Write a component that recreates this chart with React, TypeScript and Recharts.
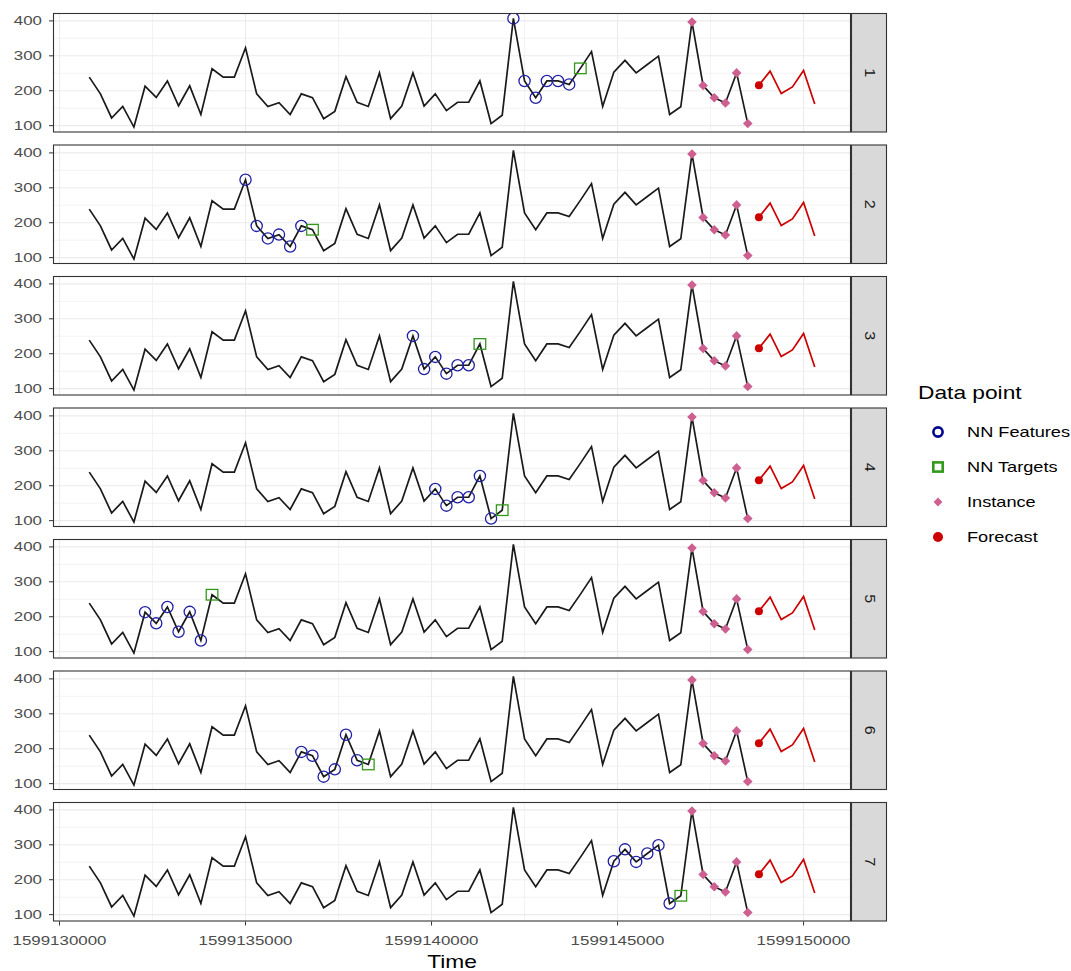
import { ComposedChart, Line, XAxis, YAxis, CartesianGrid } from "recharts";

// observed series (5 min steps)
const seriesTime = [
  1599130800, 1599131100, 1599131400, 1599131700, 1599132000, 1599132300, 1599132600, 1599132900, 1599133200, 1599133500,
  1599133800, 1599134100, 1599134400, 1599134700, 1599135000, 1599135300, 1599135600, 1599135900, 1599136200, 1599136500,
  1599136800, 1599137100, 1599137400, 1599137700, 1599138000, 1599138300, 1599138600, 1599138900, 1599139200, 1599139500,
  1599139800, 1599140100, 1599140400, 1599140700, 1599141000, 1599141300, 1599141600, 1599141900, 1599142200, 1599142500,
  1599142800, 1599143100, 1599143400, 1599143700, 1599144000, 1599144300, 1599144600, 1599144900, 1599145200, 1599145500,
  1599145800, 1599146100, 1599146400, 1599146700, 1599147000, 1599147300, 1599147600, 1599147900, 1599148200, 1599148500,
];
const seriesValue = [
  239, 191, 122, 155, 96, 213, 181, 228, 157, 214,
  132, 263, 239, 239, 323, 191, 155, 166, 132, 191,
  180, 120, 141, 240, 167, 155, 251, 120, 156, 251,
  156, 191, 143, 167, 167, 228, 106, 130, 407, 228,
  180, 228, 228, 218, 264, 312, 155, 253, 287, 251,
  275, 299, 132, 154, 397, 215, 180, 165, 251, 106,
];
const forecastTime = [1599148800, 1599149100, 1599149400, 1599149700, 1599150000, 1599150300];
const forecastValue = [216, 256, 192, 211, 258, 162];

// first neighbour-feature index for each facet, 6 features then 1 target
const neighbourStart = [38, 14, 29, 31, 5, 19, 47];
const panelLabels = ["1", "2", "3", "4", "5", "6", "7"];
const instanceCount = 6;
const featureCount = 6;

const xTicks = [1599130000, 1599135000, 1599140000, 1599145000, 1599150000];
const xMinor = [1599132500, 1599137500, 1599142500, 1599147500];
const yTicks = [100, 200, 300, 400];
const yMinor = [150, 250, 350];
const legendLabels = ["NN Features", "NN Targets", "Instance", "Forecast"];

const X_DOMAIN: [number, number] = [1599129825, 1599151275];
const Y_DOMAIN: [number, number] = [80.4, 422.6];

const FONT = "'Liberation Sans', Arial, Helvetica, sans-serif";
const SX = 1.3; // text in the reference is stretched horizontally
const PLOT_LEFT = 53;
const PLOT_RIGHT = 851;
const PANEL_TOP = 13;
const PANEL_H = 119.5;
const PANEL_PITCH = 131.5;
const STRIP_W = 36;

const BLUE = "#1f1fa6";
const GREEN = "#33991a";
const PINK = "#cd6090";
const RED = "#cd0000";

const base = seriesTime.map((t, i) => ({ t, v: seriesValue[i] }));
const forecast = forecastTime.map((t, i) => ({ t, v: forecastValue[i] }));
const instance = base.slice(base.length - instanceCount);

function YTick({ x, y, payload }: any) {
  return (
    <text
      transform={`translate(${x},${y + 4.6}) scale(${SX},1)`}
      textAnchor="end"
      fontSize={13}
      fill="#4d4d4d"
      fontFamily={FONT}
    >
      {payload.value}
    </text>
  );
}

function XTick({ x, y, payload }: any) {
  return (
    <text
      transform={`translate(${x},${y + 17}) scale(${SX},1)`}
      textAnchor="middle"
      fontSize={13}
      fill="#4d4d4d"
      fontFamily={FONT}
    >
      {payload.value}
    </text>
  );
}

const circleDot = (p: any) => (
  <circle key={`c${p.index}`} cx={p.cx} cy={p.cy} r={5.6} fill="none" stroke={BLUE} strokeWidth={1.3} />
);
const squareDot = (p: any) => (
  <rect key={`s${p.index}`} x={p.cx - 5.8} y={p.cy - 5.3} width={11.6} height={10.6} fill="none" stroke={GREEN} strokeWidth={1.3} />
);
const diamondDot = (p: any) => (
  <polygon
    key={`d${p.index}`}
    points={`${p.cx},${p.cy - 4.8} ${p.cx + 4.8},${p.cy} ${p.cx},${p.cy + 4.8} ${p.cx - 4.8},${p.cy}`}
    fill={PINK}
  />
);
const redDot = (p: any) => <circle key={`r${p.index}`} cx={p.cx} cy={p.cy} r={4} fill={RED} />;

function Panel({ idx }: { idx: number }) {
  const isLast = idx === panelLabels.length - 1;
  const top = PANEL_TOP + idx * PANEL_PITCH;
  const h = PANEL_H + (isLast ? 50 : 0);
  const s = neighbourStart[idx];
  const features = base.slice(s, s + featureCount);
  const target = base.slice(s + featureCount, s + featureCount + 1);
  return (
    <div style={{ position: "absolute", left: 0, top, width: PLOT_RIGHT, height: h }}>
      <ComposedChart width={PLOT_RIGHT} height={h} data={base} margin={{ top: 0, right: 0, bottom: 0, left: 0 }}>
        <CartesianGrid horizontalValues={yMinor} verticalValues={xMinor} stroke="#ebebeb" strokeWidth={0.6} />
        <CartesianGrid horizontalValues={yTicks} verticalValues={xTicks} stroke="#ebebeb" strokeWidth={1.1} />
        <XAxis
          type="number"
          dataKey="t"
          domain={X_DOMAIN}
          allowDataOverflow
          ticks={xTicks}
          interval={0}
          hide={!isLast}
          height={50}
          axisLine={false}
          tickLine={{ stroke: "#333333" }}
          tickSize={4}
          tickMargin={2}
          tick={<XTick />}
        />
        <YAxis
          type="number"
          dataKey="v"
          domain={Y_DOMAIN}
          allowDataOverflow
          ticks={yTicks}
          interval={0}
          width={PLOT_LEFT}
          axisLine={false}
          tickLine={{ stroke: "#333333" }}
          tickSize={4}
          tickMargin={7}
          tick={<YTick />}
        />
        <Line dataKey="v" stroke="#1a1a1a" strokeWidth={1.7} dot={false} activeDot={false} isAnimationActive={false} />
        <Line data={forecast} dataKey="v" stroke={RED} strokeWidth={1.7} dot={false} activeDot={false} isAnimationActive={false} />
        <Line data={forecast.slice(0, 1)} dataKey="v" stroke="none" dot={redDot} activeDot={false} isAnimationActive={false} />
        <Line data={instance} dataKey="v" stroke="none" dot={diamondDot} activeDot={false} isAnimationActive={false} />
        <Line data={features} dataKey="v" stroke="none" dot={circleDot} activeDot={false} isAnimationActive={false} />
        <Line data={target} dataKey="v" stroke="none" dot={squareDot} activeDot={false} isAnimationActive={false} />
      </ComposedChart>
    </div>
  );
}

function Overlay() {
  const legendY = [432, 467, 502, 537];
  return (
    <svg width={1071} height={971} style={{ position: "absolute", left: 0, top: 0, pointerEvents: "none" }}>
      {panelLabels.map((lab, i) => {
        const top = PANEL_TOP + i * PANEL_PITCH;
        return (
          <g key={lab}>
            <rect x={PLOT_LEFT + 0.5} y={top + 0.5} width={PLOT_RIGHT - PLOT_LEFT - 1} height={PANEL_H - 1} fill="none" stroke="#333333" strokeWidth={1.1} />
            <rect x={PLOT_RIGHT + 0.5} y={top + 0.5} width={STRIP_W - 1} height={PANEL_H - 1} fill="#d9d9d9" stroke="#333333" strokeWidth={1.1} />
            <text
              transform={`translate(${PLOT_RIGHT + STRIP_W / 2 - 4.5},${top + PANEL_H / 2}) rotate(90) scale(1.15,1)`}
              textAnchor="middle"
              fontSize={14}
              fill="#1a1a1a"
              fontFamily={FONT}
            >
              {lab}
            </text>
          </g>
        );
      })}
      <text
        transform={`translate(${(PLOT_LEFT + PLOT_RIGHT) / 2},968) scale(${SX},1)`}
        textAnchor="middle"
        fontSize={17.5}
        fill="#000"
        fontFamily={FONT}
      >
        Time
      </text>
      <text transform={`translate(918,399) scale(${SX},1)`} fontSize={17.5} fill="#000" fontFamily={FONT}>
        Data point
      </text>
      <circle cx={938} cy={legendY[0]} r={4.6} fill="none" stroke="#00008b" strokeWidth={2.6} />
      <rect x={933.3} y={legendY[1] - 4.6} width={9.4} height={9.2} fill="none" stroke={GREEN} strokeWidth={2.6} />
      <polygon
        points={`938,${legendY[2] - 4.4} 942.4,${legendY[2]} 938,${legendY[2] + 4.4} 933.6,${legendY[2]}`}
        fill={PINK}
      />
      <circle cx={938} cy={legendY[3]} r={5} fill={RED} />
      {legendLabels.map((lab, i) => (
        <text key={lab} transform={`translate(967,${legendY[i] + 5}) scale(${SX},1)`} fontSize={14} fill="#000" fontFamily={FONT}>
          {lab}
        </text>
      ))}
    </svg>
  );
}

export default function App() {
  return (
    <div style={{ position: "absolute", left: 0, top: 0, width: 1071, height: 971, background: "#fff" }}>
      {panelLabels.map((lab, i) => (
        <Panel key={lab} idx={i} />
      ))}
      <Overlay />
    </div>
  );
}
